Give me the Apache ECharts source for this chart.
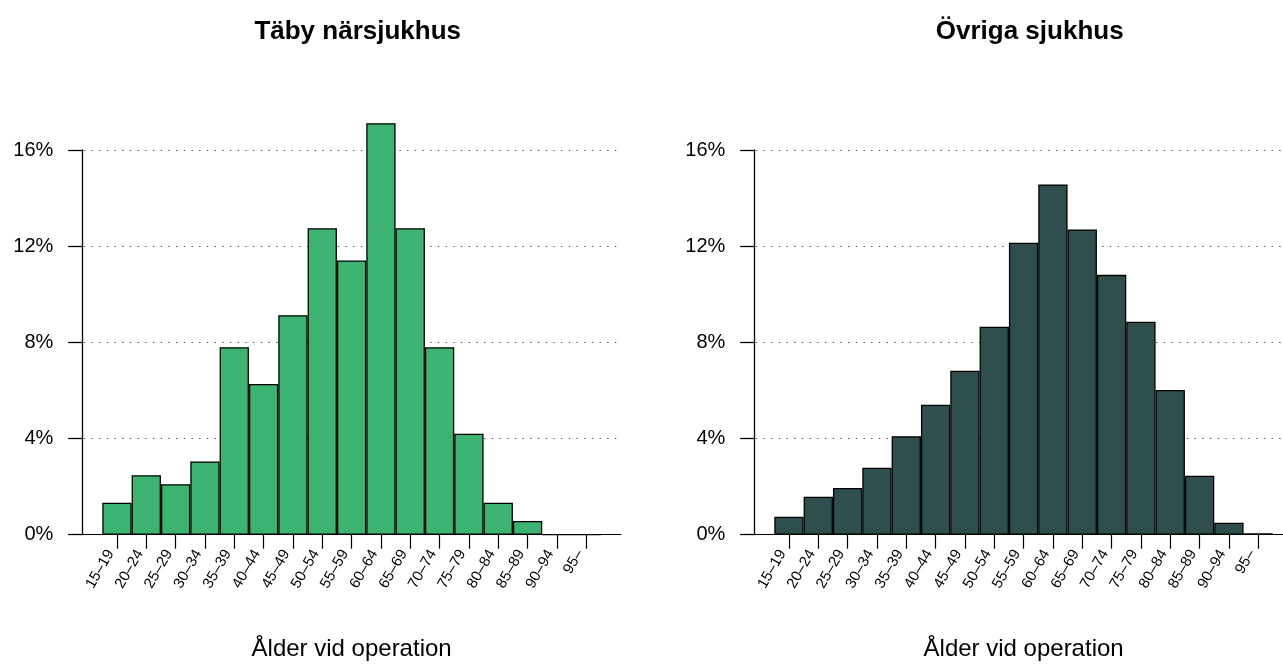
<!DOCTYPE html>
<html>
<head>
<meta charset="utf-8">
<script src="https://cdn.jsdelivr.net/npm/echarts@6/dist/echarts.min.js"></script>
<style>
  html, body { margin: 0; padding: 0; background: #fff; }
  #main { width: 1283px; height: 666px; }
</style>
</head>
<body>
<div id="main"></div>
<script>
// åldersgrupper
var categories = ['15–19', '20–24', '25–29', '30–34', '35–39', '40–44', '45–49', '50–54',
    '55–59', '60–64', '65–69', '70–74', '75–79', '80–84', '85–89', '90–94', '95–'];
// andel (%) per åldersgrupp
var tabyValues = [1.33, 2.47, 2.10, 3.05, 7.80, 6.27, 9.13, 12.75, 11.41, 17.12, 12.75, 7.80, 4.20, 1.33, 0.57, 0, 0];
var ovrigaValues = [0.75, 1.58, 1.94, 2.79, 4.10, 5.41, 6.82, 8.65, 12.15, 14.57, 12.70, 10.81, 8.86, 6.02, 2.45, 0.50, 0.06];
var yTicks = [0, 4, 8, 12, 16];

var titles = ['Täby närsjukhus', 'Övriga sjukhus'];
var colors = ['#3CB371', '#2F4F4F'];
var xTitle = 'Ålder vid operation';

var font = "'Liberation Sans', Arial, Helvetica, sans-serif";
var panelShift = 672;   // avstånd mellan panelerna

var option = {
    backgroundColor: '#fff',
    animation: false,
    title: [],
    grid: [],
    xAxis: [],
    yAxis: [],
    series: []
};

[tabyValues, ovrigaValues].forEach(function(values, p) {
    var dx = p * panelShift;
    var gA = p * 2, gB = p * 2 + 1;

    option.title.push({
        text: titles[p],
        left: 352.7 + dx,
        top: 14,
        textAlign: 'center',
        textStyle: {fontFamily: font, fontSize: 26, fontWeight: 'bold', color: '#000'}
    });

    // staplarna
    option.grid.push({left: 102.3 + dx, top: 102, width: 498.6, height: 432.7, outerBoundsMode: 'none'});
    // axlar och stödlinjer
    option.grid.push({left: 68.3 + dx, top: 150, width: 552.7, height: 384.7, outerBoundsMode: 'none'});

    option.xAxis.push({
        type: 'category',
        gridIndex: gA,
        data: categories,
        axisLine: {show: false},
        axisTick: {show: true, alignWithLabel: true, length: 14, lineStyle: {color: '#000', width: 1.2}},
        axisLabel: {rotate: 60, margin: 20, verticalAlign: 'bottom', fontFamily: font, fontSize: 15,
            color: '#000', interval: 0},
        name: xTitle,
        nameLocation: 'middle',
        nameGap: 103,
        nameTextStyle: {fontFamily: font, fontSize: 24, color: '#000'}
    });
    option.xAxis.push({
        type: 'value',
        gridIndex: gB,
        min: 0,
        max: 1,
        axisLine: {show: true, onZero: false, lineStyle: {color: '#000', width: 1}},
        axisTick: {show: false},
        axisLabel: {show: false},
        splitLine: {show: false}
    });

    option.yAxis.push({
        type: 'value',
        gridIndex: gA,
        min: 0,
        max: 18,
        show: false
    });
    option.yAxis.push({
        type: 'value',
        gridIndex: gB,
        min: yTicks[0],
        max: yTicks[yTicks.length - 1],
        interval: 4,
        offset: -14,
        axisLine: {show: true, lineStyle: {color: '#000', width: 1.3}},
        axisTick: {show: true, length: 14, lineStyle: {color: '#000', width: 1.3}},
        axisLabel: {margin: 29, fontFamily: font, fontSize: 20, color: '#000',
            formatter: function(v) { return v + '%'; }},
        splitLine: {show: true, lineStyle: {color: '#444', width: 1, type: [1.3, 6.4]}}
    });

    option.series.push({
        type: 'bar',
        xAxisIndex: gA,
        yAxisIndex: gA,
        data: values,
        barCategoryGap: '0%',
        itemStyle: {color: colors[p], borderColor: '#000', borderWidth: 1.3}
    });
});

var myChart = echarts.init(document.getElementById('main'));
myChart.setOption(option);
</script>
</body>
</html>
